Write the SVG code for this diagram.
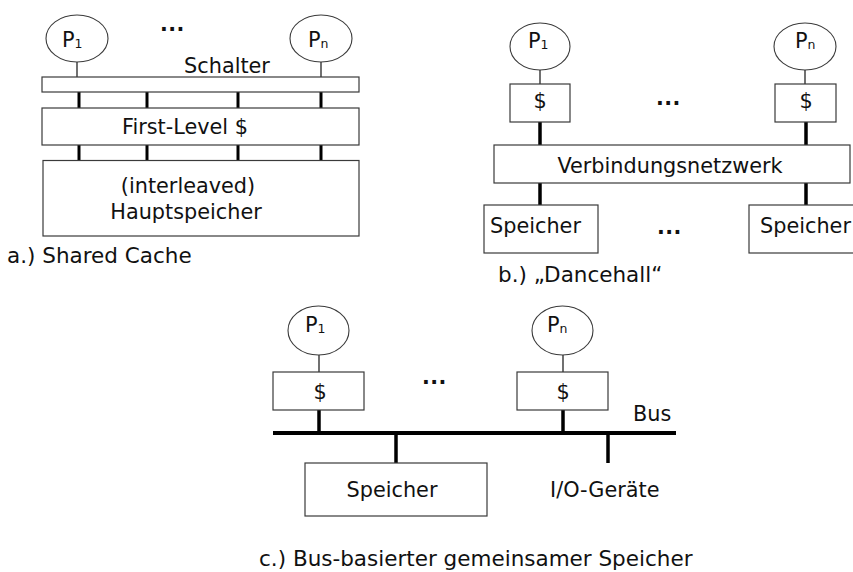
<svg xmlns="http://www.w3.org/2000/svg" width="853" height="572" viewBox="0 0 853 572">
<style>
text{font-family:"DejaVu Sans",Verdana,sans-serif;fill:#111;}
.lbl{font-size:20.8px;}
.cap{font-size:21.5px;}
.sub{font-size:12.5px;}
.mid{text-anchor:middle;}
.box{fill:#fff;stroke:#3a3a3a;stroke-width:1.2;}
.proc{fill:#fff;stroke:#3a3a3a;stroke-width:1.1;}
.thin{stroke:#111;stroke-width:1.2;fill:none;}
.thick{stroke:#000;stroke-width:3.5;fill:none;}
.bus{stroke:#000;stroke-width:4;fill:none;}
.dots{font-size:20.5px;font-weight:bold;letter-spacing:0.5px;}
</style>
<rect width="853" height="572" fill="#fff"/>

<!-- connectors -->
<g id="connectors">
  <!-- panel a -->
  <line class="thin" x1="77" y1="62" x2="77" y2="77"/>
  <line class="thin" x1="321" y1="62" x2="321" y2="77"/>
  <g class="thick" style="stroke-width:3">
    <line x1="79" y1="92" x2="79" y2="108"/>
    <line x1="147" y1="92" x2="147" y2="108"/>
    <line x1="238" y1="92" x2="238" y2="108"/>
    <line x1="321" y1="92" x2="321" y2="108"/>
    <line x1="79" y1="145" x2="79" y2="160"/>
    <line x1="147" y1="145" x2="147" y2="160"/>
    <line x1="238" y1="145" x2="238" y2="160"/>
    <line x1="321" y1="145" x2="321" y2="160"/>
  </g>
  <!-- panel b -->
  <line class="thin" x1="540" y1="70" x2="540" y2="84"/>
  <line class="thin" x1="805" y1="70" x2="805" y2="84"/>
  <line class="thick" x1="540" y1="122" x2="540" y2="145"/>
  <line class="thick" x1="806" y1="122" x2="806" y2="145"/>
  <line class="thick" x1="540" y1="183" x2="540" y2="205"/>
  <line class="thick" x1="806" y1="183" x2="806" y2="205"/>
  <!-- panel c -->
  <line class="thin" x1="319" y1="355" x2="319" y2="372"/>
  <line class="thin" x1="563" y1="355" x2="563" y2="372"/>
  <line class="thick" x1="319" y1="410" x2="319" y2="433"/>
  <line class="thick" x1="563" y1="410" x2="563" y2="433"/>
  <line class="bus" x1="273" y1="433" x2="676" y2="433"/>
  <line class="thick" x1="396" y1="433" x2="396" y2="463"/>
  <line class="thick" x1="608" y1="433" x2="608" y2="463"/>
</g>

<!-- panel a nodes -->
<g id="a-p1">
  <ellipse class="proc" cx="77" cy="38.5" rx="31" ry="23.5"/>
  <text class="lbl" x="62" y="47">P<tspan class="sub" dy="1">1</tspan></text>
</g>
<g id="a-pn">
  <ellipse class="proc" cx="321" cy="38.5" rx="31" ry="23.5"/>
  <text class="lbl" x="308" y="47">P<tspan class="sub" dy="1">n</tspan></text>
</g>
<text class="dots" x="160" y="31">...</text>
<g id="a-schalter">
  <rect class="box" x="42" y="77" width="317" height="15"/>
  <text class="lbl mid" x="227" y="73">Schalter</text>
</g>
<g id="a-firstlevel">
  <rect class="box" x="42" y="108" width="317" height="37"/>
  <text class="lbl mid" x="185" y="134">First-Level $</text>
</g>
<g id="a-haupt">
  <rect class="box" x="43" y="160.5" width="316" height="75.5"/>
  <text class="lbl mid" x="188" y="193">(interleaved)</text>
  <text class="lbl mid" x="186" y="219">Hauptspeicher</text>
</g>
<text class="cap" x="7" y="263">a.) Shared Cache</text>

<!-- panel b nodes -->
<g id="b-p1">
  <ellipse class="proc" cx="540" cy="46.5" rx="30" ry="23.5"/>
  <text class="lbl" x="528" y="48">P<tspan class="sub" dy="1">1</tspan></text>
</g>
<g id="b-pn">
  <ellipse class="proc" cx="805" cy="46.5" rx="31" ry="23.5"/>
  <text class="lbl" x="795" y="48">P<tspan class="sub" dy="1">n</tspan></text>
</g>
<g id="b-cache1">
  <rect class="box" x="510" y="84" width="60" height="38"/>
  <text class="lbl mid" x="540" y="108">$</text>
</g>
<g id="b-cachen">
  <rect class="box" x="775" y="84" width="61" height="38"/>
  <text class="lbl mid" x="806" y="108">$</text>
</g>
<text class="dots" x="656" y="104.5">...</text>
<g id="b-netz">
  <rect class="box" x="494" y="145" width="356" height="38"/>
  <text class="lbl mid" x="670" y="173">Verbindungsnetzwerk</text>
</g>
<g id="b-mem1">
  <rect class="box" x="484" y="205" width="114" height="48"/>
  <text class="lbl" x="490" y="233">Speicher</text>
</g>
<g id="b-memn">
  <rect class="box" x="749" y="205" width="120" height="48"/>
  <text class="lbl" x="760" y="233">Speicher</text>
</g>
<text class="dots" x="657" y="233.5">...</text>
<text class="cap" x="498" y="282">b.) „Dancehall“</text>

<!-- panel c nodes -->
<g id="c-p1">
  <ellipse class="proc" cx="318.5" cy="330.5" rx="30.5" ry="24.5"/>
  <text class="lbl" x="305" y="332">P<tspan class="sub" dy="1">1</tspan></text>
</g>
<g id="c-pn">
  <ellipse class="proc" cx="562.5" cy="330.5" rx="30.5" ry="24.5"/>
  <text class="lbl" x="547" y="332">P<tspan class="sub" dy="1">n</tspan></text>
</g>
<g id="c-cache1">
  <rect class="box" x="273" y="372" width="91" height="38"/>
  <text class="lbl mid" x="320" y="399">$</text>
</g>
<g id="c-cachen">
  <rect class="box" x="517" y="372" width="91" height="38"/>
  <text class="lbl mid" x="563" y="399">$</text>
</g>
<text class="dots" x="422" y="383.5">...</text>
<g id="c-bus">
  <text class="lbl" x="633" y="421">Bus</text>
</g>
<g id="c-mem">
  <rect class="box" x="305" y="463" width="182" height="53"/>
  <text class="lbl mid" x="392" y="497">Speicher</text>
</g>
<g id="c-io">
  <text class="lbl" x="550" y="497">I/O-Geräte</text>
</g>
<text class="cap" x="259" y="566">c.) Bus-basierter gemeinsamer Speicher</text>
</svg>
